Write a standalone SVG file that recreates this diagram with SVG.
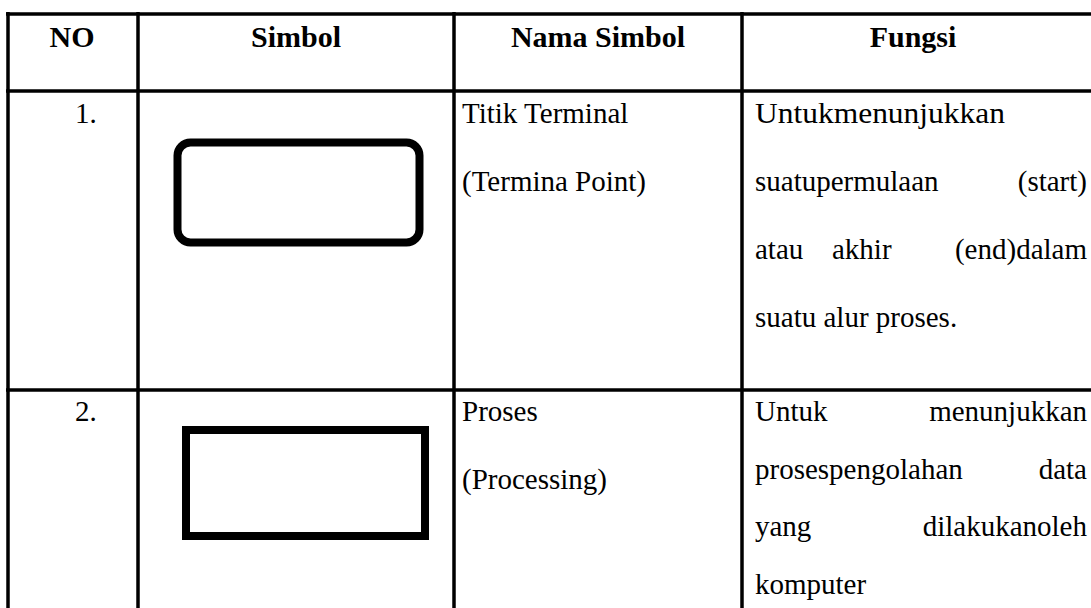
<svg xmlns="http://www.w3.org/2000/svg" width="1091" height="608" viewBox="0 0 1091 608">
  <style>
    .grid { stroke: #000; stroke-width: 3.5; fill: none; }
    .sym { stroke: #000; stroke-width: 8; fill: none; }
    .h { font-family: "Liberation Serif", "Times New Roman", serif; font-size: 30px; font-weight: bold; fill: #000; }
    .t { font-family: "Liberation Serif", "Times New Roman", serif; font-size: 29px; fill: #000; }
    .e { text-anchor: end; }
    .m { text-anchor: middle; }
  </style>
  <rect width="1091" height="608" fill="#fff"/>

  <!-- table grid -->
  <g id="grid" class="grid">
    <line x1="6" y1="14" x2="1091" y2="14"/>
    <line x1="6" y1="91" x2="1091" y2="91"/>
    <line x1="6" y1="390" x2="1091" y2="390"/>
    <line x1="8" y1="12" x2="8" y2="608"/>
    <line x1="138" y1="12" x2="138" y2="608"/>
    <line x1="454" y1="12" x2="454" y2="608"/>
    <line x1="742" y1="12" x2="742" y2="608"/>
  </g>

  <!-- header row -->
  <g id="header">
    <text class="h m" x="72" y="47">NO</text>
    <text class="h m" x="296" y="47">Simbol</text>
    <text class="h m" x="598" y="47">Nama Simbol</text>
    <text class="h m" x="913" y="47">Fungsi</text>
  </g>

  <!-- row 1: terminal point -->
  <g id="row1">
    <text class="t" x="75" y="123">1.</text>
    <rect id="terminal-symbol" class="sym" x="177.5" y="142.5" width="242" height="100" rx="13"/>
    <text class="t" x="462" y="123">Titik Terminal</text>
    <text class="t" x="462" y="191">(Termina Point)</text>
    <text class="t" x="755" y="123" textLength="250" lengthAdjust="spacingAndGlyphs">Untukmenunjukkan</text>
    <text class="t" x="755" y="191">suatupermulaan</text>
    <text class="t e" x="1087" y="191">(start)</text>
    <text class="t" x="755" y="259">atau</text>
    <text class="t" x="832" y="259">akhir</text>
    <text class="t e" x="1087" y="259">(end)dalam</text>
    <text class="t" x="755" y="327">suatu alur proses.</text>
  </g>

  <!-- row 2: process -->
  <g id="row2">
    <text class="t" x="75" y="421">2.</text>
    <rect id="process-symbol" class="sym" x="186" y="430" width="239" height="106"/>
    <text class="t" x="462" y="421">Proses</text>
    <text class="t" x="462" y="489">(Processing)</text>
    <text class="t" x="755" y="421">Untuk</text>
    <text class="t e" x="1087" y="421">menunjukkan</text>
    <text class="t" x="755" y="479">prosespengolahan</text>
    <text class="t e" x="1087" y="479">data</text>
    <text class="t" x="755" y="536">yang</text>
    <text class="t e" x="1087" y="536">dilakukanoleh</text>
    <text class="t" x="755" y="594">komputer</text>
  </g>
</svg>
